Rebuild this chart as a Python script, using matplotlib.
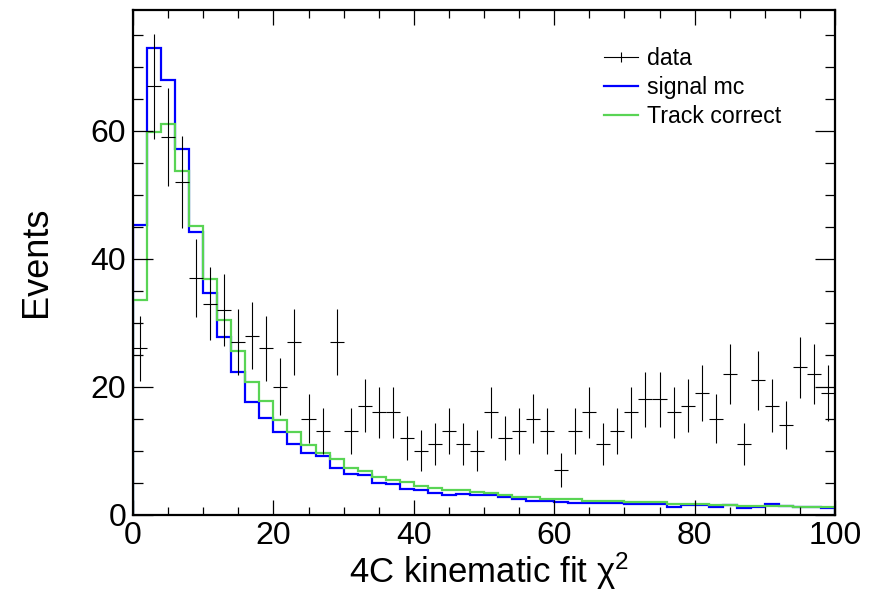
import numpy as np
import matplotlib
matplotlib.use("Agg")
import matplotlib.pyplot as plt
from matplotlib.ticker import MultipleLocator
from matplotlib.lines import Line2D

plt.rcParams['font.family'] = ['Liberation Sans', 'DejaVu Sans']
plt.rcParams['mathtext.fontset'] = 'custom'
plt.rcParams['mathtext.rm'] = 'Liberation Sans'
plt.rcParams['mathtext.it'] = 'Liberation Sans:italic'

# bin edges of the chi2 histograms (width 2)
edges = np.arange(0, 101, 2)

# data counts per bin
data_counts = [26, 67, 59, 52, 37, 33, 32, 27, 28, 26,
               20, 27, 15, 13, 27, 13, 17, 16, 16, 12,
               10, 11, 13, 11, 10, 16, 12, 13, 15, 13,
               7, 13, 16, 11, 13, 16, 18, 18, 16, 17,
               19, 15, 22, 11, 21, 17, 14, 23, 22, 19]

# signal MC (blue)
signal_mc = [45.3, 73.0, 68.0, 57.2, 44.2, 34.6, 27.8, 22.3, 17.6, 15.1,
             12.9, 11.0, 9.66, 9.14, 7.2, 6.37, 6.16, 4.96, 4.7, 4.02,
             3.76, 3.4, 3.03, 3.24, 3.03, 2.98, 2.66, 2.35, 2.14, 2.14,
             1.98, 1.83, 1.83, 1.83, 1.8, 1.7, 1.72, 1.72, 1.14, 1.41,
             1.41, 1.14, 1.5, 0.94, 1.14, 1.61, 1.3, 1.1, 1.1, 0.94]

# track corrected MC (green)
track_correct = [33.6, 59.8, 61.1, 53.7, 45.2, 36.9, 30.5, 25.5, 20.8, 17.7,
                 14.8, 12.85, 10.86, 9.66, 8.72, 7.31, 6.79, 5.9, 5.32, 5.06,
                 4.44, 4.18, 3.76, 3.76, 3.55, 3.29, 3.08, 2.66, 2.66, 2.5,
                 2.35, 2.35, 2.19, 2.19, 2.09, 1.93, 1.93, 1.93, 1.72, 1.72,
                 1.72, 1.52, 1.52, 1.3, 1.3, 1.3, 1.3, 1.1, 1.1, 1.1]

centers = 0.5 * (edges[:-1] + edges[1:])
half_w = 0.5 * np.diff(edges)
data_counts = np.array(data_counts, dtype=float)

fig = plt.figure(figsize=(8.72, 5.93), dpi=100)
ax = fig.add_axes([133 / 872, 1 - 514.5 / 593, 702 / 872, 505 / 593])

ax.errorbar(centers, data_counts, xerr=half_w, yerr=np.sqrt(data_counts),
            fmt='none', ecolor='black', elinewidth=0.8)
ax.stairs(signal_mc, edges, baseline=0, color='#0000ff', lw=1.6)
ax.stairs(track_correct, edges, baseline=0, color='#59d454', lw=1.6)

ax.set_xlim(0, 100)
ax.set_ylim(0, 79.0)

ax.xaxis.set_major_locator(MultipleLocator(20))
ax.xaxis.set_minor_locator(MultipleLocator(5))
ax.yaxis.set_major_locator(MultipleLocator(20))
ax.yaxis.set_minor_locator(MultipleLocator(5))

ax.tick_params(which='both', direction='in', top=True, right=True,
               labelsize=23, width=0.9)
ax.tick_params(axis='x', which='major', length=11, pad=5)
ax.tick_params(axis='x', which='minor', length=5.8)
ax.tick_params(axis='y', which='major', length=14.4, pad=5)
ax.tick_params(axis='y', which='minor', length=7.2)
for sp in ax.spines.values():
    sp.set_linewidth(1.6)

ax.set_xlabel('4C kinematic fit χ$^2$', fontsize=25)
ax.set_ylabel('Events', fontsize=26)
ax.xaxis.set_label_coords(0.507, -0.072)
ax.yaxis.set_label_coords(-0.113, 0.5)

handles = [
    Line2D([], [], color='black', lw=0.8, marker='|', markersize=7, markeredgewidth=0.8),
    Line2D([], [], color='#0000ff', lw=1.6),
    Line2D([], [], color='#59d454', lw=1.6),
]
labels = ['data', 'signal mc', 'Track correct']
ax.legend(handles, labels, loc='upper left', bbox_to_anchor=(0.671, 0.925), frameon=False,
          fontsize=16.7, handlelength=1.45, handletextpad=0.4,
          labelspacing=0.25, borderaxespad=0, borderpad=0)

fig.savefig('out.png', dpi=100)
